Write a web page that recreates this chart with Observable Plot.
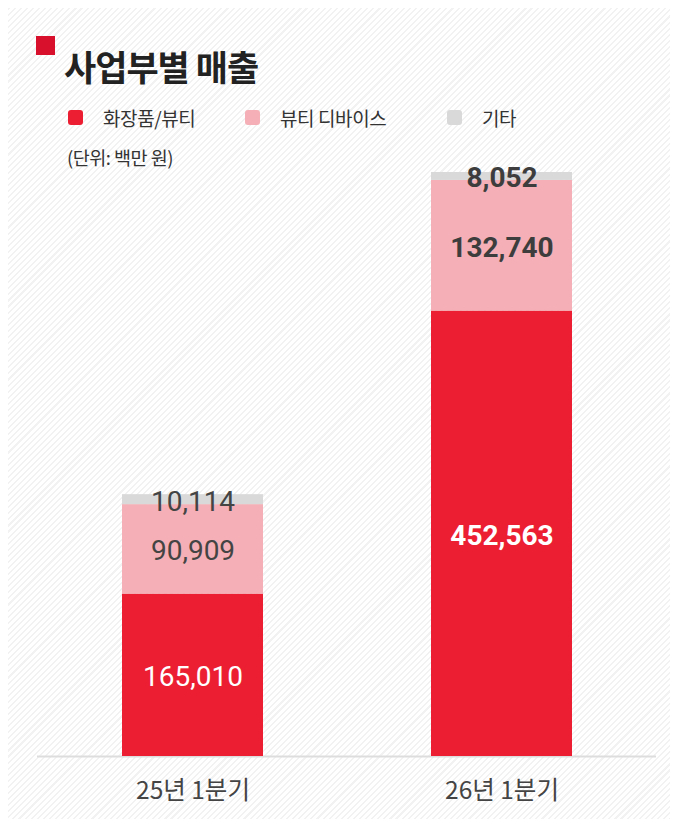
<!DOCTYPE html>
<html>
<head>
<meta charset="utf-8">
<script src="https://cdn.jsdelivr.net/npm/d3@7"></script>
<script src="https://cdn.jsdelivr.net/npm/@observablehq/plot@0.6"></script>
<style>
  html, body { margin: 0; padding: 0; background: #fff; }
  #root { position: relative; width: 677px; height: 824px; overflow: hidden; font-family: "Noto Sans CJK KR", "Noto Sans", sans-serif; }
  #panel { position: absolute; left: 8px; top: 8px; right: 7px; bottom: 5px;
    background: repeating-linear-gradient(135deg, #f2f2f2 0 1.5px, #ffffff 1.5px 4.3px); }
  #mark { position: absolute; left: 36px; top: 36px; width: 19px; height: 19px; background: #d9102b; }
  #title { position: absolute; left: 64px; top: 48px; font-size: 35px; font-weight: 700; color: #222; letter-spacing: -1px; line-height: 1; }
  #legend { position: absolute; left: 68px; top: 104px; display: flex; align-items: center; gap: 0; }
  .item { display: flex; align-items: center; font-size: 19px; color: #333; letter-spacing: -0.4px; }
  .sw { width: 15px; height: 15px; border-radius: 3px; margin-right: 20px; }
  #unit { position: absolute; left: 67px; top: 146px; font-size: 18.5px; color: #333; letter-spacing: -0.5px; line-height: 1.2; }
  #chart { position: absolute; left: 0; top: 0; }
</style>
</head>
<body>
<div id="root">
  <div id="panel"></div>
  <div id="mark"></div>
  <div id="title">사업부별 매출</div>
  <div id="legend"></div>
  <div id="unit">(단위: 백만 원)</div>
  <div id="chart"></div>
</div>
<script>
const periods = ["25년 1분기", "26년 1분기"];
const segments = ["화장품/뷰티", "뷰티 디바이스", "기타"];
const colors = ["#ec1e31", "#f4b0b6", "#d9d9d9"];
const beauty = [165010, 452563];
const device = [90909, 132740];
const other = [10114, 8052];

const series = [beauty, device, other];
const rows = [];
periods.forEach((p, i) => {
  segments.forEach((s, j) => rows.push({period: p, segment: s, value: series[j][i]}));
});
const totals = periods.map((p, i) => d3.sum(series, s => s[i]));
const fmt = d3.format(",");

// legend
const legendWidths = [177, 202, 100];
const legend = document.getElementById("legend");
segments.forEach((s, j) => {
  const it = document.createElement("div");
  it.className = "item";
  it.style.width = legendWidths[j] + "px";
  const sw = document.createElement("div");
  sw.className = "sw";
  sw.style.background = colors[j];
  it.appendChild(sw);
  const t = document.createElement("span");
  t.textContent = s;
  it.appendChild(t);
  legend.appendChild(it);
});

const labelMark = (period, first, fill, weight) =>
  Plot.text(rows, Plot.stackY({
    x: "period", y: "value",
    text: d => (d.period === period && (d.segment === segments[0]) === first) ? fmt(d.value) : "",
    fill, fontWeight: weight, fontSize: 28, dy: 2, fontFamily: "Roboto, sans-serif"
  }));

const chart = Plot.plot({
  width: 677, height: 824,
  marginTop: 172, marginBottom: 68, marginLeft: 37, marginRight: 21,
  style: {background: "transparent", overflow: "visible"},
  x: {domain: periods, paddingInner: 0.545, paddingOuter: 0.271, axis: null},
  y: {domain: [0, d3.max(totals)], axis: null},
  color: {domain: segments, range: colors},
  marks: [
    Plot.ruleY([0], {stroke: "#dddddd", strokeWidth: 2}),
    Plot.barY(rows, {x: "period", y: "value", fill: "segment"}),
    labelMark(periods[0], true, "#ffffff", 400),
    labelMark(periods[0], false, "#444444", 400),
    labelMark(periods[1], true, "#ffffff", 700),
    labelMark(periods[1], false, "#3d3d3d", 700),
    Plot.axisX({tickSize: 0, tickPadding: 25, fontSize: 24.5, fill: "#444", label: null,
      fontFamily: "'Noto Sans CJK KR', sans-serif"})
  ]
});
document.getElementById("chart").appendChild(chart);
</script>
</body>
</html>
